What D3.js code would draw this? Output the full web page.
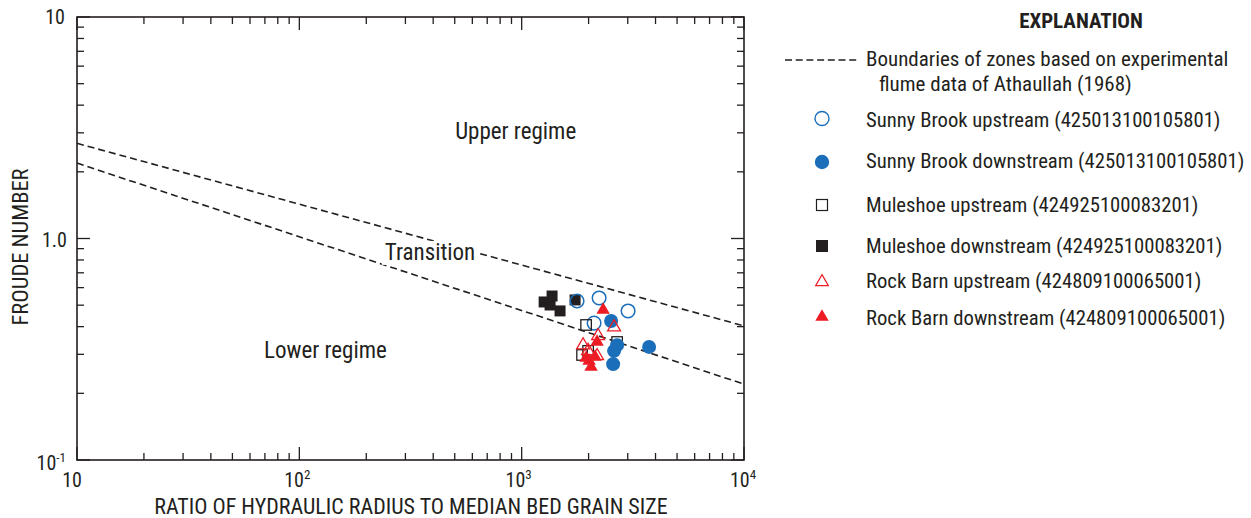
<!DOCTYPE html>
<html>
<head>
<meta charset="utf-8">
<script src="https://cdn.jsdelivr.net/npm/d3@7"></script>
<style>
  html, body { margin: 0; padding: 0; background: #fff; }
  svg text { font-family: "Liberation Sans Narrow", "Arial Narrow", "Roboto Condensed", sans-serif; fill: #231f20; }
</style>
</head>
<body>
<svg id="chart" width="1251" height="518"></svg>
<script>
// Zone boundaries (Athaullah, 1968): endpoints [ratio, Froude]
const upperBoundary = [[10, 2.69], [10000, 0.403]];
const lowerBoundary = [[10, 2.19], [10000, 0.220]];

// Ratio of hydraulic radius to median bed grain size, and Froude number, by site
const sunnyUpX = [1775, 2230, 3010, 2117];
const sunnyUpY = [0.522, 0.539, 0.471, 0.415];

const sunnyDownX = [2525, 2687, 2604, 2578, 3742];
const sunnyDownY = [0.424, 0.330, 0.311, 0.271, 0.324];

const muleUpX = [1949, 2687, 1869, 1990];
const muleUpY = [0.407, 0.341, 0.298, 0.311];

const muleDownX = [1262, 1370, 1342, 1488, 1739];
const muleDownY = [0.517, 0.550, 0.501, 0.471, 0.528];

const rockUpX = [1889, 2207, 2604, 2184, 1990];
const rockUpY = [0.330, 0.363, 0.398, 0.295, 0.311];

const rockDownX = [2325, 2184, 2139, 2010, 2052, 1949];
const rockDownY = [0.476, 0.341, 0.292, 0.280, 0.263, 0.289];

const legendLabels = [
  "Sunny Brook upstream (425013100105801)",
  "Sunny Brook downstream (425013100105801)",
  "Muleshoe upstream (424925100083201)",
  "Muleshoe downstream (424925100083201)",
  "Rock Barn upstream (424809100065001)",
  "Rock Barn downstream (424809100065001)"
];

const BLUE = "#1b6fba", RED = "#ed1c24", INK = "#231f20";

const svg = d3.select("#chart");
const plotL = 77, plotR = 744, plotT = 17, plotB = 460;

const x = d3.scaleLog().domain([10, 10000]).range([plotL, plotR]);
const y = d3.scaleLog().domain([0.1, 10]).range([plotB, plotT]);

const g = svg.append("g");

// minor + major ticks on all four sides, pointing inward
const xTicks = x.ticks(), yTicks = y.ticks();
const isMajor = v => Math.abs(Math.log10(v) - Math.round(Math.log10(v))) < 1e-9;
const tickLen = v => isMajor(v) ? 13 : 7;

const tickG = g.append("g").attr("stroke", INK).attr("stroke-width", 1.3);
xTicks.forEach(v => {
  const px = x(v), L = tickLen(v);
  tickG.append("line").attr("x1", px).attr("x2", px).attr("y1", plotB).attr("y2", plotB - L);
  tickG.append("line").attr("x1", px).attr("x2", px).attr("y1", plotT).attr("y2", plotT + L);
});
yTicks.forEach(v => {
  const py = y(v), L = tickLen(v);
  tickG.append("line").attr("x1", plotL).attr("x2", plotL + L).attr("y1", py).attr("y2", py);
  tickG.append("line").attr("x1", plotR).attr("x2", plotR - L).attr("y1", py).attr("y2", py);
});

// frame
g.append("rect").attr("x", plotL).attr("y", plotT).attr("width", plotR - plotL).attr("height", plotB - plotT)
  .attr("fill", "none").attr("stroke", INK).attr("stroke-width", 1.6);

// tick labels
function powLabel(sel, base, exp, xPos, yPos, anchor) {
  const t = sel.append("text").attr("x", xPos).attr("y", yPos).attr("text-anchor", anchor)
    .attr("font-size", 20);
  t.append("tspan").text(base);
  if (exp !== null) t.append("tspan").attr("dy", -8).attr("font-size", 13).text(exp);
  return t;
}
const lbl = svg.append("g");
powLabel(lbl, "10", null, 65, y(10) + 7, "end");
powLabel(lbl, "1.0", null, 67, y(1) + 8, "end");
powLabel(lbl, "10", "-1", 66, y(0.1) + 10, "end");
powLabel(lbl, "10", null, x(10) - 5, 487, "middle");
powLabel(lbl, "10", "2", x(100) - 2, 487, "middle");
powLabel(lbl, "10", "3", x(1000) - 3, 487, "middle");
powLabel(lbl, "10", "4", x(10000) - 1, 487, "middle");

// axis titles
svg.append("text").attr("x", 411).attr("y", 514).attr("text-anchor", "middle")
  .attr("font-size", 22).text("RATIO OF HYDRAULIC RADIUS TO MEDIAN BED GRAIN SIZE");
svg.append("text").attr("transform", `translate(28, 247) rotate(-90)`)
  .attr("text-anchor", "middle").attr("font-size", 22.5).text("FROUDE NUMBER");

// regime labels
const zoneText = svg.append("g").attr("font-size", 23);
zoneText.append("text").attr("x", x(940)).attr("y", y(3.05) + 8).attr("text-anchor", "middle").text("Upper regime");
zoneText.append("text").attr("x", x(131)).attr("y", y(0.314) + 8).attr("text-anchor", "middle").text("Lower regime");

// boundary lines
const line = d3.line().x(d => x(d[0])).y(d => y(d[1]));
[upperBoundary, lowerBoundary].forEach(b => {
  g.append("path").attr("d", line(b)).attr("fill", "none").attr("stroke", INK)
    .attr("stroke-width", 1.6).attr("stroke-dasharray", "7,4");
});

// "Transition" label sits on white over the lines
const tr = zoneText.append("text").attr("x", x(387)).attr("y", y(0.87) + 8)
  .attr("text-anchor", "middle").text("Transition");
const bb = tr.node().getBBox();
zoneText.insert("rect", () => tr.node()).attr("x", bb.x - 3).attr("y", bb.y + 2)
  .attr("width", bb.width + 6).attr("height", bb.height - 3).attr("fill", "#fff");

// plotted symbols
const zipXY = (xs, ys) => xs.map((v, i) => [v, ys[i]]);
const pts = svg.append("g");
function circles(data, filled) {
  pts.selectAll(null).data(data).enter().append("circle")
    .attr("cx", d => x(d[0])).attr("cy", d => y(d[1])).attr("r", filled ? 7 : 6.8)
    .attr("fill", filled ? BLUE : "none").attr("stroke", BLUE).attr("stroke-width", filled ? 0 : 1.5);
}
function squares(data, filled) {
  const s = filled ? 11 : 10.5;
  pts.selectAll(null).data(data).enter().append("rect")
    .attr("x", d => x(d[0]) - s / 2).attr("y", d => y(d[1]) - s / 2).attr("width", s).attr("height", s)
    .attr("fill", filled ? INK : "none").attr("stroke", INK).attr("stroke-width", filled ? 0 : 1.3);
}
function triangles(data, filled) {
  const sym = d3.symbol().type(d3.symbolTriangle).size(filled ? 78 : 72);
  pts.selectAll(null).data(data).enter().append("path")
    .attr("d", sym).attr("transform", d => `translate(${x(d[0])},${y(d[1])})`)
    .attr("fill", filled ? RED : "none").attr("stroke", RED).attr("stroke-width", filled ? 0 : 1.3);
}
squares(zipXY(muleDownX, muleDownY), true);
circles(zipXY(sunnyUpX, sunnyUpY), false);
squares(zipXY(muleUpX, muleUpY), false);
circles(zipXY(sunnyDownX, sunnyDownY), true);
triangles(zipXY(rockUpX, rockUpY), false);
triangles(zipXY(rockDownX, rockDownY), true);

// legend
const leg = svg.append("g");
leg.append("text").attr("x", 1081).attr("y", 28).attr("text-anchor", "middle")
  .attr("font-size", 21).attr("font-weight", "bold").text("EXPLANATION");
leg.append("line").attr("x1", 785).attr("x2", 857).attr("y1", 60).attr("y2", 60)
  .attr("stroke", INK).attr("stroke-width", 1.4).attr("stroke-dasharray", "7,3.7");
leg.append("text").attr("x", 866).attr("y", 66).attr("font-size", 21).text("Boundaries of zones based on experimental");
leg.append("text").attr("x", 879).attr("y", 91).attr("font-size", 21).text("flume data of Athaullah (1968)");

const symYs = [118.5, 162, 205, 246, 282, 317];
const textYs = [127, 168, 212, 253, 288, 325];
const sx = 822;
leg.append("circle").attr("cx", sx).attr("cy", symYs[0]).attr("r", 7).attr("fill", "none").attr("stroke", BLUE).attr("stroke-width", 1.4);
leg.append("circle").attr("cx", sx).attr("cy", symYs[1]).attr("r", 7.2).attr("fill", BLUE);
leg.append("rect").attr("x", sx - 5.5).attr("y", symYs[2] - 5.5).attr("width", 11).attr("height", 11).attr("fill", "none").attr("stroke", INK).attr("stroke-width", 1.2);
leg.append("rect").attr("x", sx - 6).attr("y", symYs[3] - 6).attr("width", 12).attr("height", 12).attr("fill", INK);
leg.append("path").attr("d", d3.symbol().type(d3.symbolTriangle).size(70)).attr("transform", `translate(${sx},${symYs[4]})`).attr("fill", "none").attr("stroke", RED).attr("stroke-width", 1.2);
leg.append("path").attr("d", d3.symbol().type(d3.symbolTriangle).size(78)).attr("transform", `translate(${sx},${symYs[5]})`).attr("fill", RED);
legendLabels.forEach((t, i) => {
  leg.append("text").attr("x", 866).attr("y", textYs[i]).attr("font-size", 20.7).text(t);
});
</script>
</body>
</html>
